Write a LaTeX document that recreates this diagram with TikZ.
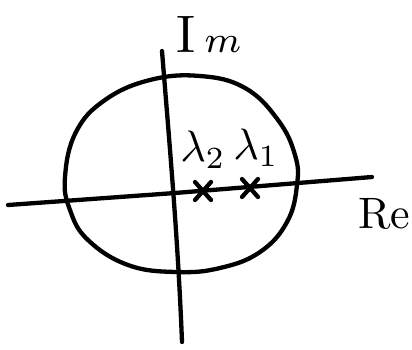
\documentclass[tikz,border=0pt]{standalone}
\begin{document}
\begin{tikzpicture}[x=1pt,y=-1pt,
  stroke/.style={line width=4.3pt,line cap=round,line join=round},
  lbl/.style={inner sep=0pt,scale=4.4}]
\useasboundingbox (0,0) rectangle (412,349);
% circle (hand drawn)
\draw[stroke] plot[smooth cycle,tension=0.7] coordinates {
  (65,177) (76,132) (105,100) (150,80) (200,76) (245,88) (278,120)
  (295,155) (297,185) (287,222) (260,252) (220,268) (176,272) (128,265) (88,240) (70,210)};
% axes
\coordinate (reL) at (8,205);
\coordinate (reR) at (372,177);
\coordinate (imT) at (162,51);
\coordinate (imB) at (182,342);
\draw[stroke] (reL) -- (175,193) -- (reR);
\draw[stroke] (imT) .. controls (170,150) and (178,240) .. (imB);
% crosses
\coordinate (x2) at (203,191);
\coordinate (x1) at (250,188);
\foreach \c in {x1,x2}{
  \draw[stroke] ([shift={(-8,-9)}]\c) -- ([shift={(8,9)}]\c);
  \draw[stroke] ([shift={(8,-9)}]\c) -- ([shift={(-8,9)}]\c);
}
% labels
\node[lbl] (l2) at (203,150) {$\lambda_2$};
\node[lbl] (l1) at (256,148) {$\lambda_1$};
\node[lbl,scale=1.2] (im) at (209,34) {I\,$\scriptstyle m$};
\node[lbl] (re) at (384,214) {Re};
\end{tikzpicture}
\end{document}
